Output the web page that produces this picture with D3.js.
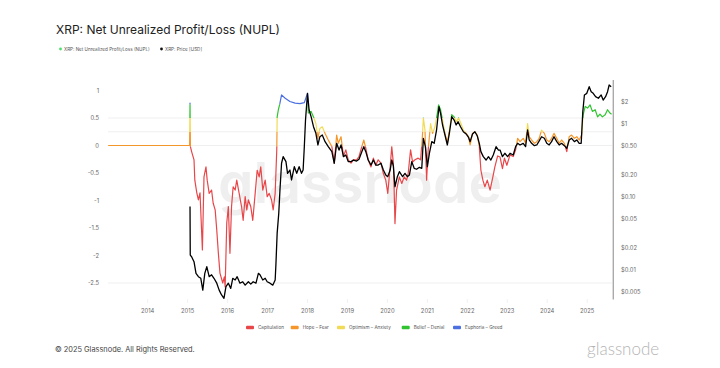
<!DOCTYPE html>
<html><head><meta charset="utf-8">
<script src="https://cdn.jsdelivr.net/npm/d3@7"></script>
<style>body{margin:0;background:#fff}svg{display:block}text{font-family:Inter,"Liberation Sans",Arial,sans-serif}</style>
</head><body><div id="chart"></div>
<script>
// ---- data ----
const yearTicks = [2014,2015,2016,2017,2018,2019,2020,2021,2022,2023,2024,2025];
const nuplTicks = [1,0.5,0,-0.5,-1,-1.5,-2,-2.5];
const nuplGrid = [0.5,0.25,0,-2.5];
const priceTicks = [2,1,0.5,0.2,0.1,0.05,0.02,0.01,0.005];
const priceTickLabels = ["$2","$1","$0.50","$0.20","$0.10","$0.05","$0.02","$0.01","$0.005"];
const zoneNames = ["Capitulation","Hope – Fear","Optimism – Anxiety","Belief – Denial","Euphoria – Greed"];
const zoneLower = [-10,0,0.25,0.5,0.75];
const zoneUpper = [0,0.25,0.5,0.75,10];
const zoneColors = ["#e8474a","#f5962a","#f1da55","#2fc42f","#4c6fe2"];
const seriesNames = ["XRP: Net Unrealized Profit/Loss (NUPL)","XRP: Price [USD]"];

// [decimal year, NUPL]
const nuplData = [
[2013.01,0],[2015.05,0],[2015.06,0.77],[2015.07,-0.02],[2015.10,-0.11],[2015.16,-0.26],[2015.18,-0.63],[2015.23,-0.86],[2015.27,-0.99],[2015.31,-0.86],[2015.37,-1.9],[2015.41,-0.57],[2015.46,-0.39],[2015.49,-0.63],[2015.54,-0.87],[2015.60,-0.81],[2015.64,-1.05],[2015.69,-1.17],[2015.73,-1.54],[2015.77,-1.96],[2015.81,-2.32],[2015.88,-2.5],[2015.92,-2.39],[2015.94,-2.57],[2015.98,-1.41],[2016.02,-1.11],[2016.06,-1.96],[2016.10,-1.11],[2016.14,-0.75],[2016.19,-0.81],[2016.23,-0.63],[2016.29,-0.87],[2016.35,-1.11],[2016.39,-1.36],[2016.44,-0.93],[2016.48,-1.17],[2016.52,-0.99],[2016.58,-1.11],[2016.63,-1.36],[2016.69,-0.87],[2016.74,-0.45],[2016.79,-0.57],[2016.83,-0.39],[2016.88,-0.81],[2016.94,-0.63],[2016.99,-0.93],[2017.04,-0.87],[2017.10,-0.99],[2017.14,-1.17],[2017.19,-0.87],[2017.23,-0.08],[2017.24,0.52],[2017.27,0.65],[2017.31,0.77],[2017.35,0.92],[2017.44,0.86],[2017.56,0.8],[2017.69,0.77],[2017.81,0.76],[2017.92,0.78],[2018.00,0.95],[2018.02,0.59],[2018.09,0.62],[2018.15,0.52],[2018.21,0.40],[2018.26,0.13],[2018.31,0.31],[2018.37,0.34],[2018.44,0.22],[2018.52,0.10],[2018.61,-0.02],[2018.67,-0.32],[2018.73,0.19],[2018.77,0.04],[2018.84,0.16],[2018.90,-0.20],[2018.96,-0.08],[2019.02,-0.26],[2019.09,-0.32],[2019.15,-0.26],[2019.23,-0.26],[2019.29,-0.20],[2019.36,-0.02],[2019.41,0.10],[2019.46,-0.05],[2019.52,-0.26],[2019.59,-0.39],[2019.65,-0.23],[2019.71,-0.36],[2019.77,-0.26],[2019.84,-0.32],[2019.90,-0.51],[2019.96,-0.63],[2020.01,-0.87],[2020.07,-0.39],[2020.11,-0.02],[2020.15,-0.32],[2020.17,-0.81],[2020.19,-1.42],[2020.23,-0.81],[2020.30,-0.57],[2020.36,-0.69],[2020.42,-0.57],[2020.48,-0.63],[2020.52,-0.51],[2020.58,-0.08],[2020.63,-0.30],[2020.69,-0.26],[2020.77,-0.23],[2020.83,-0.26],[2020.87,0.10],[2020.90,0.50],[2020.94,0.28],[2020.98,-0.63],[2021.02,-0.08],[2021.08,0.40],[2021.13,0.22],[2021.19,0.34],[2021.25,0.59],[2021.28,0.74],[2021.33,0.65],[2021.38,0.46],[2021.44,0.22],[2021.50,0.04],[2021.55,0.28],[2021.61,0.56],[2021.67,0.52],[2021.72,0.43],[2021.78,0.50],[2021.84,0.40],[2021.90,0.28],[2021.97,0.22],[2022.03,0.16],[2022.07,0.01],[2022.13,0.22],[2022.19,0.25],[2022.25,0.19],[2022.30,-0.02],[2022.34,-0.45],[2022.39,-0.63],[2022.44,-0.75],[2022.50,-0.63],[2022.57,-0.81],[2022.64,-0.57],[2022.69,-0.39],[2022.76,-0.19],[2022.82,-0.21],[2022.88,-0.42],[2022.93,-0.23],[2022.99,-0.36],[2023.07,-0.17],[2023.15,-0.20],[2023.21,-0.08],[2023.26,0.13],[2023.32,0.07],[2023.40,0.13],[2023.46,0.04],[2023.51,0.40],[2023.55,0.16],[2023.61,0.10],[2023.68,0.04],[2023.74,0.07],[2023.80,0.13],[2023.86,0.28],[2023.93,0.22],[2023.99,0.10],[2024.05,0.07],[2024.11,0.13],[2024.17,0.22],[2024.24,0.13],[2024.30,0.04],[2024.36,0.10],[2024.43,0.04],[2024.49,-0.11],[2024.55,0.16],[2024.61,0.19],[2024.68,0.13],[2024.74,0.16],[2024.80,0.10],[2024.86,0.19],[2024.90,0.56],[2024.95,0.71],[2025.01,0.68],[2025.07,0.74],[2025.13,0.62],[2025.20,0.65],[2025.26,0.52],[2025.32,0.57],[2025.38,0.52],[2025.45,0.56],[2025.51,0.65],[2025.57,0.59],[2025.61,0.57]
];

// [decimal year, price USD]
const priceData = [
[2015.06,0.074],[2015.066,0.016],[2015.10,0.0152],[2015.16,0.013],[2015.21,0.0090],[2015.27,0.0081],[2015.33,0.0077],[2015.38,0.0053],[2015.43,0.0090],[2015.48,0.0111],[2015.54,0.0081],[2015.60,0.0086],[2015.66,0.0077],[2015.73,0.0066],[2015.79,0.0053],[2015.85,0.00455],[2015.91,0.0041],[2015.96,0.0059],[2016.02,0.0066],[2016.08,0.0056],[2016.13,0.0077],[2016.19,0.0073],[2016.24,0.0081],[2016.31,0.0066],[2016.38,0.0069],[2016.44,0.0062],[2016.52,0.0069],[2016.58,0.0064],[2016.64,0.0069],[2016.71,0.0066],[2016.77,0.0090],[2016.81,0.0086],[2016.88,0.0073],[2016.94,0.0077],[2016.99,0.0069],[2017.06,0.0066],[2017.13,0.0062],[2017.19,0.0073],[2017.21,0.0124],[2017.24,0.032],[2017.28,0.060],[2017.31,0.125],[2017.35,0.29],[2017.39,0.357],[2017.46,0.305],[2017.50,0.211],[2017.56,0.234],[2017.60,0.171],[2017.67,0.26],[2017.73,0.211],[2017.79,0.26],[2017.85,0.211],[2017.89,0.234],[2017.92,0.489],[2017.95,1.135],[2018.00,2.63],[2018.04,1.555],[2018.09,1.26],[2018.15,0.918],[2018.21,0.746],[2018.26,0.516],[2018.31,0.67],[2018.37,0.707],[2018.44,0.573],[2018.52,0.489],[2018.61,0.418],[2018.67,0.29],[2018.73,0.544],[2018.79,0.44],[2018.84,0.516],[2018.90,0.357],[2018.96,0.376],[2019.02,0.305],[2019.09,0.305],[2019.15,0.321],[2019.23,0.311],[2019.29,0.328],[2019.36,0.418],[2019.41,0.489],[2019.46,0.418],[2019.52,0.321],[2019.59,0.274],[2019.65,0.321],[2019.71,0.274],[2019.77,0.274],[2019.84,0.29],[2019.90,0.234],[2019.96,0.20],[2020.01,0.19],[2020.07,0.234],[2020.11,0.321],[2020.15,0.266],[2020.19,0.138],[2020.25,0.19],[2020.30,0.222],[2020.38,0.19],[2020.44,0.211],[2020.50,0.19],[2020.55,0.20],[2020.61,0.305],[2020.67,0.247],[2020.73,0.24],[2020.80,0.255],[2020.86,0.247],[2020.90,0.637],[2020.95,0.489],[2021.00,0.26],[2021.05,0.397],[2021.11,0.573],[2021.17,0.544],[2021.23,0.828],[2021.29,1.726],[2021.33,1.40],[2021.38,0.969],[2021.44,0.707],[2021.50,0.516],[2021.55,0.746],[2021.61,1.26],[2021.67,1.134],[2021.72,0.969],[2021.77,1.075],[2021.83,0.918],[2021.90,0.784],[2021.97,0.73],[2022.03,0.657],[2022.07,0.573],[2022.13,0.73],[2022.19,0.784],[2022.25,0.685],[2022.30,0.544],[2022.34,0.418],[2022.40,0.357],[2022.47,0.321],[2022.53,0.357],[2022.59,0.321],[2022.65,0.376],[2022.72,0.489],[2022.78,0.44],[2022.82,0.44],[2022.88,0.357],[2022.94,0.397],[2023.01,0.357],[2023.07,0.397],[2023.15,0.376],[2023.21,0.489],[2023.26,0.544],[2023.32,0.516],[2023.40,0.544],[2023.46,0.489],[2023.51,0.828],[2023.55,0.604],[2023.61,0.544],[2023.68,0.505],[2023.74,0.516],[2023.79,0.573],[2023.86,0.67],[2023.93,0.637],[2023.99,0.544],[2024.05,0.516],[2024.11,0.573],[2024.17,0.67],[2024.24,0.573],[2024.30,0.516],[2024.36,0.544],[2024.43,0.505],[2024.49,0.465],[2024.55,0.604],[2024.61,0.637],[2024.68,0.573],[2024.74,0.604],[2024.80,0.544],[2024.85,0.544],[2024.89,1.474],[2024.93,2.50],[2024.99,2.63],[2025.05,3.24],[2025.10,2.77],[2025.15,2.63],[2025.21,2.37],[2025.28,2.25],[2025.35,2.50],[2025.40,2.13],[2025.46,2.37],[2025.51,2.77],[2025.55,3.42],[2025.60,3.24]
];

// ---- helpers ----
function yd(t){const y=Math.floor(t);const s=Date.UTC(y,0,1),e=Date.UTC(y+1,0,1);return new Date(s+(t-y)*(e-s));}

const W=720,H=368;
const svg=d3.select("#chart").append("svg").attr("width",W).attr("height",H);
svg.append("rect").attr("width",W).attr("height",H).attr("fill","#fff");

const x=d3.scaleUtc().domain([yd(2014),yd(2025)]).range([147.7,587.2]);
const y=d3.scaleLinear().domain([-2.5,1]).range([283,90.5]);
const yp=d3.scaleLog().domain([0.01,1]).range([270,124]);

// watermark
svg.append("text").attr("x",218).attr("y",203)
  .attr("font-size",57).attr("font-weight",600).attr("fill","#efefef")
  .attr("textLength",284).attr("lengthAdjust","spacingAndGlyphs")
  .text("glassnode");

// title
svg.append("text").attr("x",56).attr("y",34).attr("font-size",12).attr("fill","#222").text("XRP: Net Unrealized Profit/Loss (NUPL)");
// top legend
const topLeg=svg.append("g").attr("font-size",4.6).attr("fill","#555");
topLeg.append("circle").attr("cx",60.5).attr("cy",49).attr("r",1.4).attr("fill","#4be06a");
topLeg.append("text").attr("x",64).attr("y",50.6).text(seriesNames[0]);
topLeg.append("circle").attr("cx",161.5).attr("cy",49).attr("r",1.4).attr("fill","#111");
topLeg.append("text").attr("x",165).attr("y",50.6).text(seriesNames[1]);

// gridlines
svg.append("g").selectAll("line").data(nuplGrid).join("line")
  .attr("x1",108).attr("x2",612).attr("y1",d=>y(d)).attr("y2",d=>y(d))
  .attr("stroke","#ebebeb").attr("stroke-width",0.8);

// left axis labels
svg.append("g").selectAll("text").data(nuplTicks).join("text")
  .attr("x",99).attr("y",d=>y(d)).attr("dy","0.35em").attr("text-anchor","end")
  .attr("font-size",5.8).attr("fill","#666").text(d=>String(d));

// right axis
svg.append("line").attr("x1",613.3).attr("x2",613.3).attr("y1",80).attr("y2",299.5).attr("stroke","#aaa").attr("stroke-width",1.4);
svg.append("g").selectAll("text").data(priceTicks).join("text")
  .attr("x",621).attr("y",d=>yp(d)).attr("dy","0.35em")
  .attr("font-size",5.8).attr("fill","#666").text((d,i)=>priceTickLabels[i]);

// x axis
const gx=svg.append("g");
gx.selectAll("line").data(yearTicks).join("line")
  .attr("x1",d=>x(yd(d))).attr("x2",d=>x(yd(d))).attr("y1",299).attr("y2",303)
  .attr("stroke","#eee").attr("stroke-width",0.8);
gx.selectAll("text").data(yearTicks).join("text")
  .attr("x",d=>x(yd(d))).attr("y",311).attr("dy","0.35em").attr("text-anchor","middle")
  .attr("font-size",5.8).attr("fill","#666").text(d=>d);

// NUPL coloured by zone via clip bands
const defs=svg.append("defs");
const eps=0.015;
zoneColors.forEach((c,i)=>{
  let yTop=y(Math.min(zoneUpper[i],1.5)) - (i===4?20:0);
  let yBot=y(Math.max(zoneLower[i],-3.2)) + (i===0?20:0);
  if(i===1) yBot=y(zoneLower[i]-eps);
  if(i===0) yTop=y(zoneUpper[i]-eps);
  defs.append("clipPath").attr("id","zc"+i).append("rect")
    .attr("x",0).attr("width",W).attr("y",yTop).attr("height",Math.max(0,yBot-yTop));
});
const lineN=d3.line().x(d=>x(yd(d[0]))).y(d=>y(d[1]));
const nd=lineN(nuplData);
zoneColors.forEach((c,i)=>{
  svg.append("path").attr("d",nd).attr("fill","none").attr("stroke",c)
    .attr("stroke-width",1.2).attr("stroke-linejoin","round").attr("clip-path","url(#zc"+i+")");
});

const lineP=d3.line().x(d=>x(yd(d[0]))).y(d=>yp(d[1]));
svg.append("path").attr("d",lineP(priceData)).attr("fill","none").attr("stroke","#000")
  .attr("stroke-width",1.3).attr("stroke-linejoin","round");

// bottom legend
const legX=[246,290.7,337,401.7,453];
const bl=svg.append("g");
zoneNames.forEach((n,i)=>{
  bl.append("rect").attr("x",legX[i]).attr("y",325.8).attr("width",8).attr("height",3.4).attr("rx",1).attr("fill",zoneColors[i]);
  bl.append("text").attr("x",legX[i]+12).attr("y",327.5).attr("dy","0.35em").attr("font-size",4.6).attr("fill","#555").text(n);
});

// footer
svg.append("text").attr("x",55).attr("y",352).attr("font-size",7.4).attr("fill","#444").text("© 2025 Glassnode. All Rights Reserved.");
svg.append("text").attr("x",587).attr("y",355).attr("font-size",17).attr("font-weight",300).attr("fill","#b5b5b5")
  .style("font-family","Lato, 'Open Sans', sans-serif").text("glassnode");
</script></body></html>
